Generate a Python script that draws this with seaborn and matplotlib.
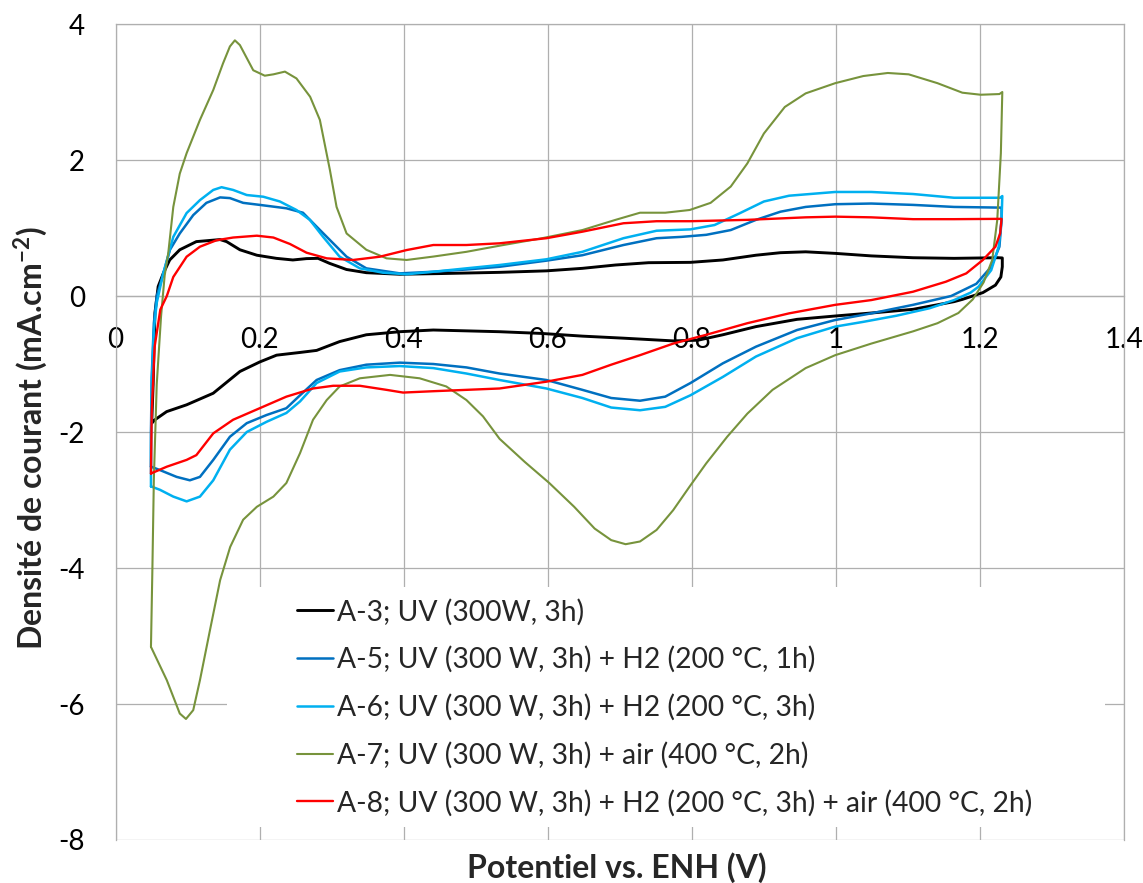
import numpy as np
import pandas as pd
import seaborn as sns
import matplotlib
matplotlib.use("Agg")
import matplotlib.pyplot as plt
from matplotlib.patches import Rectangle

# ---- data (one closed CV loop per sample) ----
# each loop: anodic branch from the left vertex to 1.23 V, then cathodic branch back
a3_x = [0.050, 0.052, 0.0545, 0.059, 0.066, 0.075, 0.089, 0.112, 0.145, 0.154, 0.1725, 0.196,
        0.223, 0.246, 0.265, 0.281, 0.297, 0.3205, 0.348, 0.3945, 0.45, 0.533, 0.598, 0.648,
        0.694, 0.740, 0.798, 0.843, 0.889, 0.923, 0.958, 0.999, 1.049, 1.107, 1.164, 1.225, 1.231,
        1.231, 1.229, 1.2215, 1.204, 1.1755, 1.164, 1.107, 1.049, 0.999, 0.946, 0.889, 0.843,
        0.8085, 0.774, 0.705, 0.648, 0.5906, 0.533, 0.441, 0.3945, 0.348, 0.311, 0.279, 0.256,
        0.2234, 0.200, 0.1725, 0.1354, 0.0985, 0.0708, 0.0545, 0.050]
a3_y = [-1.87, -1.3, -0.25, 0.14, 0.33, 0.53, 0.68, 0.80, 0.83, 0.80, 0.68, 0.60,
        0.554, 0.53, 0.55, 0.554, 0.48, 0.39, 0.343, 0.32, 0.33, 0.348, 0.37, 0.407,
        0.456, 0.49, 0.495, 0.53, 0.60, 0.637, 0.65, 0.627, 0.59, 0.563, 0.554, 0.563, 0.56,
        0.43, 0.28, 0.16, 0.05, -0.05, -0.083, -0.196, -0.25, -0.294, -0.343, -0.45, -0.57,
        -0.65, -0.66, -0.62, -0.59, -0.55, -0.525, -0.50, -0.525, -0.57, -0.67, -0.80, -0.83,
        -0.87, -0.97, -1.11, -1.43, -1.60, -1.70, -1.82, -1.87]

a5_x = [0.049, 0.049, 0.050, 0.053, 0.057, 0.064, 0.0754, 0.089, 0.1077, 0.126, 0.145, 0.1586,
        0.177, 0.200, 0.237, 0.260, 0.279, 0.302, 0.3206, 0.348, 0.3945, 0.441, 0.487, 0.533,
        0.598, 0.648, 0.705, 0.751, 0.786, 0.820, 0.854, 0.889, 0.923, 0.958, 0.999, 1.049,
        1.107, 1.164, 1.228, 1.230,
        1.230, 1.227, 1.2156, 1.195, 1.16, 1.107, 1.049, 0.999, 0.946, 0.889, 0.843, 0.798,
        0.763, 0.728, 0.688, 0.648, 0.598, 0.533, 0.487, 0.441, 0.3945, 0.348, 0.311, 0.279,
        0.256, 0.237, 0.2095, 0.182, 0.1586, 0.1355, 0.117, 0.103, 0.0846, 0.0615, 0.049]
a5_y = [-2.51, -2.0, -1.2, -0.4, 0.0, 0.25, 0.68, 0.92, 1.19, 1.37, 1.45, 1.44,
        1.37, 1.34, 1.29, 1.225, 1.02, 0.775, 0.578, 0.407, 0.333, 0.357, 0.39, 0.43,
        0.52, 0.60, 0.75, 0.85, 0.87, 0.90, 0.97, 1.12, 1.24, 1.31, 1.35, 1.36,
        1.34, 1.31, 1.30, 1.30,
        1.12, 0.725, 0.43, 0.18, 0.0, -0.13, -0.255, -0.353, -0.50, -0.745, -0.99, -1.28,
        -1.48, -1.54, -1.50, -1.38, -1.235, -1.14, -1.05, -1.0, -0.98, -1.01, -1.09, -1.235,
        -1.46, -1.65, -1.75, -1.87, -2.07, -2.41, -2.66, -2.71, -2.66, -2.56, -2.51]

a6_x = [0.049, 0.049, 0.050, 0.053, 0.057, 0.066, 0.080, 0.0985, 0.117, 0.1355, 0.147, 0.163,
        0.182, 0.205, 0.228, 0.251, 0.2696, 0.288, 0.311, 0.339, 0.371, 0.404, 0.441, 0.487,
        0.533, 0.598, 0.648, 0.705, 0.751, 0.798, 0.8315, 0.866, 0.900, 0.935, 0.999, 1.049,
        1.107, 1.164, 1.228, 1.231,
        1.230, 1.226, 1.2156, 1.198, 1.187, 1.164, 1.13, 1.084, 1.038, 0.999, 0.946, 0.889,
        0.843, 0.798, 0.763, 0.728, 0.688, 0.648, 0.598, 0.533, 0.487, 0.441, 0.3945, 0.348,
        0.311, 0.279, 0.256, 0.237, 0.2095, 0.182, 0.1586, 0.1355, 0.117, 0.0985, 0.080,
        0.0615, 0.049]
a6_y = [-2.80, -2.3, -1.3, -0.5, -0.1, 0.33, 0.87, 1.22, 1.41, 1.56, 1.60, 1.56,
        1.485, 1.46, 1.39, 1.265, 1.12, 0.87, 0.578, 0.407, 0.343, 0.32, 0.357, 0.407,
        0.456, 0.54, 0.65, 0.85, 0.96, 0.98, 1.044, 1.215, 1.39, 1.475, 1.53, 1.53,
        1.50, 1.445, 1.445, 1.47,
        1.12, 0.725, 0.38, 0.137, 0.05, -0.06, -0.18, -0.29, -0.38, -0.45, -0.62, -0.89,
        -1.19, -1.46, -1.63, -1.68, -1.64, -1.50, -1.36, -1.235, -1.14, -1.06, -1.03, -1.05,
        -1.11, -1.28, -1.55, -1.72, -1.85, -2.0, -2.26, -2.71, -2.95, -3.02, -2.95,
        -2.85, -2.80]

a7_x = [0.049, 0.051, 0.053, 0.057, 0.063, 0.068, 0.073, 0.080, 0.089, 0.0985, 0.117, 0.1355,
        0.149, 0.1586, 0.1655, 0.1725, 0.191, 0.207, 0.219, 0.235, 0.251, 0.270, 0.2835, 0.2975,
        0.3067, 0.3206, 0.348, 0.376, 0.404, 0.441, 0.487, 0.533, 0.591, 0.648, 0.694, 0.728,
        0.763, 0.797, 0.826, 0.854, 0.877, 0.900, 0.929, 0.958, 0.999, 1.038, 1.072, 1.101,
        1.141, 1.1755, 1.201, 1.227, 1.231,
        1.229, 1.224, 1.217, 1.205, 1.19, 1.17, 1.141, 1.107, 1.049, 0.999, 0.958, 0.912,
        0.877, 0.849, 0.820, 0.797, 0.774, 0.751, 0.728, 0.708, 0.688, 0.665, 0.6366, 0.602,
        0.568, 0.533, 0.51, 0.487, 0.459, 0.422, 0.381, 0.339, 0.311, 0.293, 0.274, 0.256,
        0.237, 0.219, 0.196, 0.177, 0.159, 0.145, 0.131, 0.117, 0.1077, 0.0976, 0.089, 0.071,
        0.049]
a7_y = [-5.16, -4.0, -2.7, -1.3, -0.3, 0.3, 0.63, 1.31, 1.80, 2.10, 2.59, 3.03,
        3.42, 3.67, 3.76, 3.69, 3.32, 3.24, 3.26, 3.30, 3.20, 2.93, 2.59, 1.85,
        1.31, 0.92, 0.68, 0.554, 0.53, 0.58, 0.65, 0.74, 0.848, 0.97, 1.12, 1.225,
        1.225, 1.265, 1.37, 1.61, 1.95, 2.39, 2.78, 2.98, 3.13, 3.235, 3.28, 3.26,
        3.13, 2.99, 2.96, 2.97, 3.00,
        2.1, 1.12, 0.53, 0.2, -0.05, -0.25, -0.40, -0.52, -0.70, -0.87, -1.06, -1.38,
        -1.73, -2.07, -2.46, -2.80, -3.15, -3.44, -3.61, -3.65, -3.59, -3.42, -3.10, -2.75,
        -2.44, -2.10, -1.77, -1.53, -1.33, -1.21, -1.16, -1.21, -1.33, -1.53, -1.82, -2.31,
        -2.75, -2.95, -3.10, -3.29, -3.69, -4.18, -4.91, -5.65, -6.09, -6.22, -6.14, -5.65,
        -5.16]

a8_x = [0.049, 0.050, 0.054, 0.062, 0.071, 0.080, 0.0985, 0.117, 0.140, 0.163, 0.196, 0.219,
        0.242, 0.265, 0.293, 0.3297, 0.3668, 0.404, 0.441, 0.487, 0.533, 0.598, 0.648, 0.705,
        0.751, 0.798, 0.877, 0.958, 0.999, 1.049, 1.107, 1.164, 1.230,
        1.228, 1.2215, 1.204, 1.181, 1.1526, 1.107, 1.049, 0.999, 0.935, 0.877, 0.820, 0.774,
        0.728, 0.688, 0.648, 0.598, 0.533, 0.487, 0.441, 0.399, 0.376, 0.339, 0.302, 0.274,
        0.237, 0.200, 0.163, 0.1355, 0.112, 0.0985, 0.071, 0.049]
a8_y = [-2.61, -1.72, -0.75, -0.2, 0.0, 0.28, 0.578, 0.725, 0.82, 0.86, 0.887, 0.86,
        0.765, 0.637, 0.554, 0.53, 0.578, 0.676, 0.75, 0.75, 0.775, 0.85, 0.946, 1.07,
        1.10, 1.10, 1.12, 1.157, 1.167, 1.157, 1.13, 1.13, 1.135,
        0.92, 0.725, 0.53, 0.333, 0.21, 0.063, -0.06, -0.13, -0.255, -0.40, -0.57, -0.70,
        -0.87, -1.01, -1.16, -1.26, -1.36, -1.38, -1.40, -1.42, -1.38, -1.32, -1.32, -1.36,
        -1.48, -1.65, -1.82, -2.02, -2.34, -2.41, -2.51, -2.61]

labels = ["A-3; UV (300W, 3h)",
          "A-5; UV (300 W, 3h) + H2 (200 °C, 1h)",
          "A-6; UV (300 W, 3h) + H2 (200 °C, 3h)",
          "A-7; UV (300 W, 3h) + air (400 °C, 2h)",
          "A-8; UV (300 W, 3h) + H2 (200 °C, 3h) + air (400 °C, 2h)"]
colors = ["#000000", "#0070C0", "#00B0F0", "#77933C", "#FF0000"]
widths = [2.1, 1.8, 1.8, 1.5, 1.7]

x_ticks = [0, 0.2, 0.4, 0.6, 0.8, 1.0, 1.2, 1.4]
x_tick_labels = ["0", "0.2", "0.4", "0.6", "0.8", "1", "1.2", "1.4"]
y_ticks = [-8, -6, -4, -2, 0, 2, 4]
y_tick_labels = ["-8", "-6", "-4", "-2", "0", "2", "4"]

loops = [(a3_x, a3_y), (a5_x, a5_y), (a6_x, a6_y), (a7_x, a7_y), (a8_x, a8_y)]

sns.set_theme(style="white")
plt.rcParams["font.family"] = ["Lato", "DejaVu Sans"]
plt.rcParams["mathtext.fontset"] = "custom"
plt.rcParams["mathtext.rm"] = "Lato"
plt.rcParams["mathtext.bf"] = "Lato:bold"

fig = plt.figure(figsize=(11.43, 8.83), dpi=100)
ax = fig.add_axes([0.1012, 0.0487, 0.8822, 0.9241])

grid_col = "#AFAFAF"
handles = []
for (xs, ys), lab, col, lw in zip(loops, labels, colors, widths):
    df = pd.DataFrame({"x": xs, "y": ys})
    sns.lineplot(data=df, x="x", y="y", sort=False, estimator=None, color=col,
                 linewidth=lw, ax=ax, zorder=3)
    ln = ax.get_lines()[-1]
    ln.set_solid_joinstyle("round")
    ln.set_label(lab)
    handles.append(ln)

ax.set_xlim(0, 1.4)
ax.set_ylim(-8, 4)
ax.set_xticks(x_ticks)
ax.set_xticklabels(x_tick_labels)
ax.set_yticks(y_ticks)
ax.set_yticklabels(y_tick_labels)
ax.grid(True, color=grid_col, linewidth=0.9)
ax.set_axisbelow(True)

for side in ["left", "right", "top", "bottom"]:
    ax.spines[side].set_color(grid_col)
    ax.spines[side].set_linewidth(0.9)
ax.spines["bottom"].set_position(("data", 0))
ax.tick_params(axis="both", length=0, labelsize=20, colors="black", pad=22)

# white area behind the legend (hides the grid there)
ax.add_patch(Rectangle((0.1104, 0.0159), 0.8707, 0.2941, transform=ax.transAxes,
                       facecolor="white", edgecolor="none", zorder=2))

leg = ax.legend(handles=handles, loc="upper left", bbox_to_anchor=(0.1799, 0.296),
                frameon=False, fontsize=20.3, handlelength=1.26, handletextpad=0.15,
                labelspacing=0.74, borderpad=0, borderaxespad=0)
leg.set_zorder(4)

ax.set_xlabel("Potentiel vs. ENH (V)", fontsize=23, fontweight="bold", va="center")
ax.xaxis.set_label_coords(0.497, -0.034)
ax.set_ylabel("Densité de courant (mA.cm$^{\\mathbf{-2}}$)", fontsize=23,
              fontweight="bold", va="center")
ax.yaxis.set_label_coords(-0.084, 0.4926)

fig.savefig("out.png", dpi=100, facecolor="white")
